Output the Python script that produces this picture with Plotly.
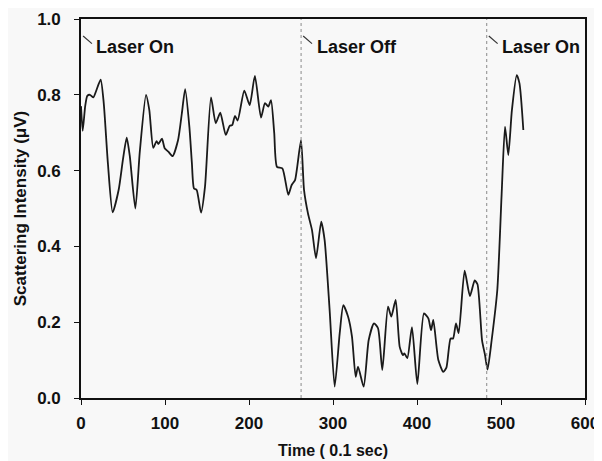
import plotly.graph_objects as go

# Time (0.1 sec) and scattering intensity (uV)
time = [0, 2, 5, 7.5, 10.7, 14.7, 18, 23.4, 27, 32, 37.7, 44.9, 50, 54.4, 58, 64.7,
        70, 77.4, 81.3, 86, 90, 92, 96.4, 99.6, 104, 109, 115.5, 120, 124, 129, 132,
        134.5, 137.7, 142.9, 147.6, 154.8, 160.4, 165.8, 172.3, 177, 180, 183.3, 186.5,
        194.4, 200.8, 207, 214.3, 219, 223, 226.2, 230, 233.3, 239.7, 246.8, 250.8,
        254.8, 261.9, 265.5, 270.2, 275, 279.8, 286, 290, 296, 302, 308, 312.3, 317.9,
        322.6, 327, 329.8, 336.5, 342.5, 348.8, 353.6, 358.7, 365.5, 369.4, 374.6,
        379.4, 383.3, 385, 388.5, 394, 400.4, 408.3, 413.5, 416.7, 419.4, 425.4, 431.3,
        435, 440, 443, 446.4, 449.6, 456.7, 463, 468.7, 472, 477.4, 481, 484, 488.9,
        495.6, 500.8, 504.8, 508.7, 513, 518.7, 522, 526.6]
intensity = [0.77, 0.705, 0.77, 0.797, 0.80, 0.793, 0.81, 0.84, 0.78, 0.62, 0.49, 0.55,
             0.63, 0.687, 0.64, 0.50, 0.65, 0.80, 0.76, 0.66, 0.678, 0.67, 0.684, 0.659,
             0.65, 0.638, 0.68, 0.75, 0.815, 0.716, 0.62, 0.553, 0.549, 0.489, 0.557,
             0.793, 0.725, 0.753, 0.694, 0.718, 0.72, 0.744, 0.732, 0.811, 0.773, 0.85,
             0.74, 0.778, 0.769, 0.786, 0.70, 0.61, 0.606, 0.536, 0.562, 0.575, 0.68,
             0.549, 0.487, 0.443, 0.369, 0.465, 0.417, 0.232, 0.03, 0.171, 0.245, 0.215,
             0.162, 0.056, 0.083, 0.030, 0.153, 0.197, 0.184, 0.074, 0.241, 0.215, 0.259,
             0.135, 0.113, 0.118, 0.105, 0.187, 0.037, 0.223, 0.21, 0.179, 0.206, 0.10,
             0.069, 0.08, 0.157, 0.157, 0.197, 0.171, 0.336, 0.269, 0.31, 0.30, 0.153,
             0.113, 0.075, 0.153, 0.285, 0.54, 0.716, 0.641, 0.76, 0.852, 0.83, 0.707]

event_times = [0, 262, 483]
event_labels = ["Laser On", "Laser Off", "Laser On"]

x_ticks = [0, 100, 200, 300, 400, 500, 600]
y_ticks = [0.0, 0.2, 0.4, 0.6, 0.8, 1.0]

FONT = "Liberation Sans, Arial, sans-serif"
bg = "#f8f8f8"

fig = go.Figure()
fig.add_trace(go.Scatter(x=time, y=intensity, mode="lines",
                         line=dict(color="#1a1a1a", width=1.8, shape="spline", smoothing=0.6),
                         showlegend=False, hoverinfo="skip"))

for i, (t, lab) in enumerate(zip(event_times, event_labels)):
    if i > 0:
        fig.add_shape(type="line", x0=t, x1=t, y0=0, y1=1, xref="x", yref="y",
                      line=dict(color="#8a8a8a", width=1, dash="dot"))
    fig.add_shape(type="line", x0=t + 2.5, x1=t + 13, y0=0.955, y1=0.935,
                  xref="x", yref="y", line=dict(color="#333", width=1.2))
    fig.add_annotation(x=t + 16, y=0.926, text=lab, showarrow=False,
                       xanchor="left", yanchor="middle",
                       font=dict(family=FONT, size=18, color="#111", weight="bold"))

axis_common = dict(showline=True, linecolor="#111", linewidth=1.6, mirror=True,
                   ticks="outside", ticklen=5, tickwidth=1.4, tickcolor="#111",
                   showgrid=False, zeroline=False, automargin=False,
                   tickfont=dict(family=FONT, size=17, color="#111", weight="bold"))

fig.update_xaxes(range=[0, 600], tickvals=x_ticks, ticktext=[str(v) for v in x_ticks],
                 ticklabelstandoff=4,
                 title=dict(text="Time ( 0.1 sec)", standoff=13,
                            font=dict(family=FONT, size=16, color="#111", weight="bold")),
                 **axis_common)
fig.update_yaxes(range=[0, 1.0], tickvals=y_ticks, ticktext=[f"{v:.1f}" for v in y_ticks],
                 ticklabelstandoff=10,
                 title=dict(text="Scattering Intensity (\u03bcV)", standoff=6,
                            font=dict(family=FONT, size=17, color="#111", weight="bold")),
                 **axis_common)

# the page body adds an 8px offset, so the figure is 8px smaller than the window
fig.update_layout(width=594, height=453, margin=dict(l=73, r=17, t=11, b=63),
                  paper_bgcolor=bg, plot_bgcolor=bg)

fig.write_html("out.html")
